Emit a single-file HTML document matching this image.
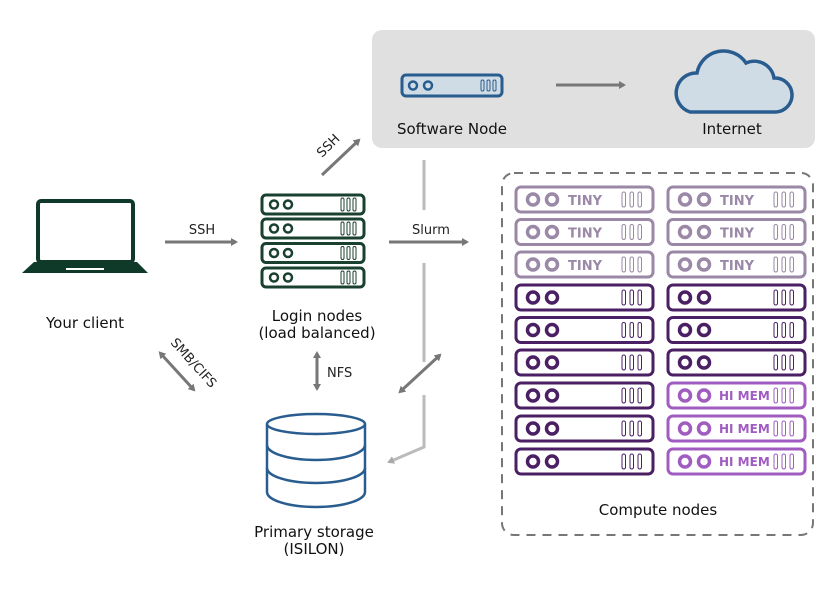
<!DOCTYPE html>
<html><head><meta charset="utf-8"><style>
html,body{margin:0;padding:0;background:#fff;}
svg{display:block;}
text{font-family:"DejaVu Sans","Liberation Sans",sans-serif;}
</style></head><body>
<svg width="837" height="589" viewBox="0 0 837 589" xmlns="http://www.w3.org/2000/svg">
<defs>
<marker id="ah" markerWidth="8" markerHeight="8" refX="5" refY="4" orient="auto" markerUnits="userSpaceOnUse"><path d="M0,0 L7,4 L0,8 Z" fill="#777"/></marker>
<marker id="ahs" markerWidth="8" markerHeight="8" refX="2" refY="4" orient="auto-start-reverse" markerUnits="userSpaceOnUse"><path d="M0,0 L7,4 L0,8 Z" fill="#777"/></marker>
<marker id="ahl" markerWidth="8" markerHeight="8" refX="5" refY="4" orient="auto" markerUnits="userSpaceOnUse"><path d="M0,0 L7,4 L0,8 Z" fill="#aaa"/></marker>
<g id="cn" fill="none" stroke="currentColor">
<rect x="0" y="0" width="137" height="25" rx="5" stroke-width="3"/>
<circle cx="17" cy="12.5" r="5.5" stroke-width="3.5"/>
<circle cx="36" cy="12.5" r="5.5" stroke-width="3.5"/>
<rect x="106" y="5" width="3.5" height="15" rx="1.7" stroke-width="1"/>
<rect x="114" y="5" width="3.5" height="15" rx="1.7" stroke-width="1"/>
<rect x="122" y="5" width="3.5" height="15" rx="1.7" stroke-width="1"/>
</g>
</defs>

<rect x="372" y="30" width="443" height="118" rx="10" fill="#e0e0e0"/>
<rect x="402" y="75" width="100" height="21" rx="4" fill="#cfdce6" stroke="#2a5d8f" stroke-width="3"/>
<circle cx="413" cy="85.5" r="4" fill="none" stroke="#2a5d8f" stroke-width="2.5"/>
<circle cx="428" cy="85.5" r="4" fill="none" stroke="#2a5d8f" stroke-width="2.5"/>
<g fill="none" stroke="#2a5d8f" stroke-width="1"><rect x="481" y="80" width="3" height="11" rx="1.5"/><rect x="487" y="80" width="3" height="11" rx="1.5"/><rect x="493" y="80" width="3" height="11" rx="1.5"/></g>
<line x1="556" y1="85" x2="624" y2="85" stroke="#777" stroke-width="3" marker-end="url(#ah)"/>
<path d="M690,112 H776 A17,17 0 0 0 774,78 A20,20 0 0 0 746,63 A27,27 0 0 0 697,73 A20,20 0 0 0 690,112 Z" fill="#cfdce6" stroke="#2a5d8f" stroke-width="3.5"/>
<text x="452" y="134" font-size="15" text-anchor="middle" fill="#111">Software Node</text>
<text x="732" y="134" font-size="15" text-anchor="middle" fill="#111">Internet</text>

<rect x="38" y="201" width="95" height="61" rx="3" fill="none" stroke="#0f3a2a" stroke-width="4"/>
<path d="M34,262 H137 L148,273 H22 Z" fill="#0f3a2a"/>
<rect x="66" y="268" width="38" height="2" fill="#fff"/>
<text x="85" y="328" font-size="15" text-anchor="middle" fill="#111">Your client</text>

<line x1="165" y1="242" x2="236" y2="242" stroke="#777" stroke-width="3" marker-end="url(#ah)"/>
<text x="202" y="234" font-size="13" text-anchor="middle" fill="#222">SSH</text>

<g stroke="#1a4030" fill="none">
<g id="ln"><rect x="262" y="195" width="102" height="19" rx="4" stroke-width="3"/><circle cx="274" cy="204.5" r="4" stroke-width="2.5"/><circle cx="288" cy="204.5" r="4" stroke-width="2.5"/><rect x="341" y="198" width="3" height="13" rx="1.5" stroke-width="1"/><rect x="347" y="198" width="3" height="13" rx="1.5" stroke-width="1"/><rect x="353" y="198" width="3" height="13" rx="1.5" stroke-width="1"/></g>
<use href="#ln" y="24"/><use href="#ln" y="48.5"/><use href="#ln" y="73"/>
</g>
<text x="317" y="321" font-size="15" text-anchor="middle" fill="#111">Login nodes</text>
<text x="317" y="338" font-size="15" text-anchor="middle" fill="#111">(load balanced)</text>

<line x1="322" y1="175" x2="359" y2="140" stroke="#777" stroke-width="3" marker-end="url(#ah)"/>
<text x="0" y="0" font-size="13" fill="#222" transform="translate(322,158) rotate(-45)">SSH</text>

<line x1="389" y1="242" x2="467" y2="242" stroke="#777" stroke-width="3" marker-end="url(#ah)"/>
<text x="431" y="234" font-size="13" text-anchor="middle" fill="#222">Slurm</text>

<g stroke="#bbb" stroke-width="3" fill="none">
<line x1="424" y1="160" x2="424" y2="210"/>
<line x1="424" y1="263" x2="424" y2="362"/>
<polyline points="424,395 424,447 389,462" marker-end="url(#ahl)"/>
</g>
<line x1="402" y1="390" x2="440" y2="355" stroke="#777" stroke-width="3" marker-start="url(#ahs)" marker-end="url(#ah)"/>

<line x1="317" y1="356" x2="317" y2="389" stroke="#777" stroke-width="3" marker-start="url(#ahs)" marker-end="url(#ah)"/>
<text x="327" y="377" font-size="13" fill="#222">NFS</text>

<line x1="162" y1="355" x2="194" y2="390" stroke="#777" stroke-width="3" marker-start="url(#ahs)" marker-end="url(#ah)"/>
<text x="0" y="0" font-size="13" fill="#222" transform="translate(170,343) rotate(48)">SMB/CIFS</text>

<g fill="none" stroke="#2a5d8f" stroke-width="2.5">
<ellipse cx="316" cy="424" rx="49" ry="10"/>
<path d="M267,424 V492 A49,15 0 0 0 365,492 V424"/>
<path d="M267,445 A49,15 0 0 0 365,445"/>
<path d="M267,468 A49,15 0 0 0 365,468"/>
</g>
<text x="314" y="537" font-size="15" text-anchor="middle" fill="#111">Primary storage</text>
<text x="314" y="554" font-size="15" text-anchor="middle" fill="#111">(ISILON)</text>

<rect x="502" y="173" width="311" height="362" rx="12" fill="none" stroke="#777" stroke-width="2" stroke-dasharray="9,7"/>

<use href="#cn" x="516" y="187" color="#9a88a6"/>
<use href="#cn" x="516" y="219.5" color="#9a88a6"/>
<use href="#cn" x="516" y="252" color="#9a88a6"/>
<use href="#cn" x="516" y="285" color="#4a1f63"/>
<use href="#cn" x="516" y="317.5" color="#4a1f63"/>
<use href="#cn" x="516" y="350" color="#4a1f63"/>
<use href="#cn" x="516" y="383" color="#4a1f63"/>
<use href="#cn" x="516" y="416" color="#4a1f63"/>
<use href="#cn" x="516" y="449" color="#4a1f63"/>
<use href="#cn" x="668" y="187" color="#9a88a6"/>
<use href="#cn" x="668" y="219.5" color="#9a88a6"/>
<use href="#cn" x="668" y="252" color="#9a88a6"/>
<use href="#cn" x="668" y="285" color="#4a1f63"/>
<use href="#cn" x="668" y="317.5" color="#4a1f63"/>
<use href="#cn" x="668" y="350" color="#4a1f63"/>
<use href="#cn" x="668" y="383" color="#a05cc0"/>
<use href="#cn" x="668" y="416" color="#a05cc0"/>
<use href="#cn" x="668" y="449" color="#a05cc0"/>
<g font-size="13" font-weight="bold" fill="#9a88a6">
<text x="568" y="205">TINY</text><text x="568" y="237.5">TINY</text><text x="568" y="270">TINY</text>
<text x="720" y="205">TINY</text><text x="720" y="237.5">TINY</text><text x="720" y="270">TINY</text>
</g>
<g font-size="12" font-weight="bold" fill="#a05cc0">
<text x="719" y="400">HI MEM</text><text x="719" y="433">HI MEM</text><text x="719" y="466">HI MEM</text>
</g>
<text x="658" y="515" font-size="15" text-anchor="middle" fill="#111">Compute nodes</text>
</svg>
</body></html>
